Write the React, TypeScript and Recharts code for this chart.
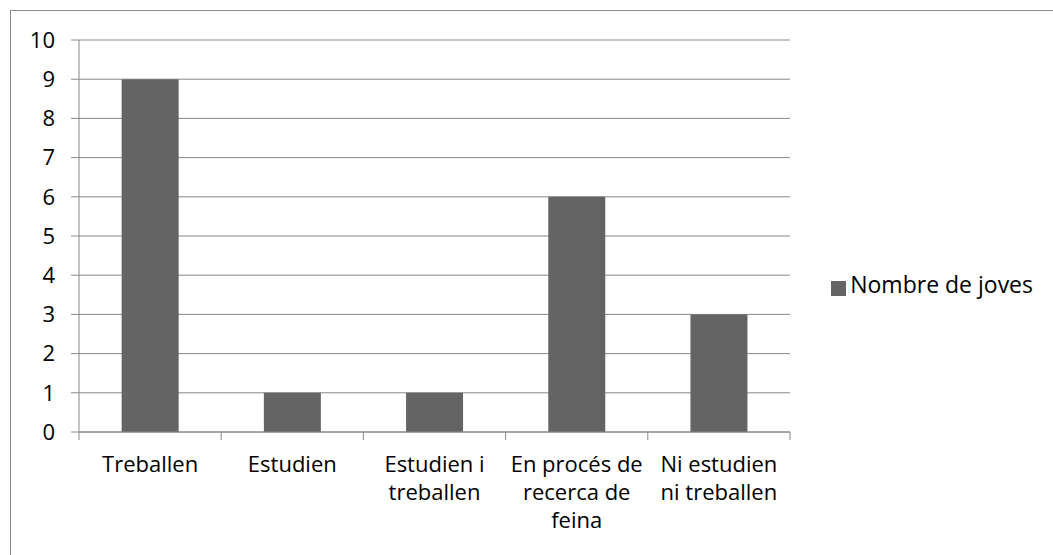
import React from 'react'
import { BarChart, Bar, XAxis, YAxis, CartesianGrid, Legend } from 'recharts'

const categories = [
  'Treballen',
  'Estudien',
  'Estudien i\ntreballen',
  'En procés de\nrecerca de\nfeina',
  'Ni estudien\nni treballen',
]
const joves = [9, 1, 1, 6, 3]
const yTicks = [0, 1, 2, 3, 4, 5, 6, 7, 8, 9, 10]

const data = categories.map((name, i) => ({ name, joves: joves[i] }))

const FONT = '"Open Sans", sans-serif'
const GRID = '#888888'

// label lines plus short marks on the category edges (Excel style)
const CategoryTick = (props: any) => {
  const { x, y, payload, width, visibleTicksCount, index } = props
  const lines = String(payload.value).split('\n')
  const half = width / visibleTicksCount / 2
  const top = y - 8
  return (
    <g>
      <line x1={x - half} x2={x - half} y1={top} y2={top + 8} stroke={GRID} />
      {index === visibleTicksCount - 1 && (
        <line x1={x + half} x2={x + half} y1={top} y2={top + 8} stroke={GRID} />
      )}
      <text
        x={x}
        y={y}
        textAnchor="middle"
        fill="#000"
        fontSize={22}
        fontFamily={FONT}
      >
        {lines.map((line, i) => (
          <tspan key={i} x={x} dy={i === 0 ? 32 : 28}>
            {line}
          </tspan>
        ))}
      </text>
    </g>
  )
}

const App: React.FC = () => {
  return (
    <div
      style={{
        position: 'absolute',
        left: 0,
        top: 0,
        width: 1053,
        height: 555,
        overflow: 'hidden',
        background: '#fff',
        fontFamily: FONT,
      }}
    >
      <div
        style={{
          position: 'absolute',
          left: 10,
          top: 10,
          width: 1100,
          height: 600,
          border: '1px solid #8e8e8e',
        }}
      />
      {/* legend box (230px) is added to the right offset by recharts */}
      <BarChart
        width={1053}
        height={555}
        data={data}
        margin={{ top: 40, right: 33, bottom: 23, left: 0 }}
        barCategoryGap="30%"
      >
        <CartesianGrid stroke={GRID} vertical={false} />
        <XAxis
          dataKey="name"
          height={100}
          interval={0}
          stroke={GRID}
          tickLine={false}
          tickSize={0}
          tickMargin={8}
          tick={<CategoryTick />}
        />
        <YAxis
          width={79}
          domain={[0, 10]}
          ticks={yTicks}
          interval={0}
          tickSize={8}
          tickMargin={16}
          stroke={GRID}
          tick={{ fill: '#000', fontSize: 22, fontFamily: FONT }}
        />
        <Legend
          layout="horizontal"
          align="right"
          verticalAlign="middle"
          iconType="square"
          iconSize={15}
          wrapperStyle={{ left: 813, top: 268, right: 'auto', width: 230 }}
          formatter={(value: string) => (
            <span style={{ color: '#000', fontSize: 23 }}>{value}</span>
          )}
        />
        <Bar
          dataKey="joves"
          name="Nombre de joves"
          fill="#646464"
          isAnimationActive={false}
        />
      </BarChart>
    </div>
  )
}

export default App
